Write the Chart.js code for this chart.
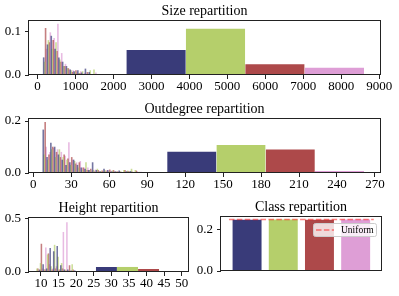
<!DOCTYPE html>
<html>
<head>
<meta charset="utf-8">
<script src="https://cdn.jsdelivr.net/npm/chart.js@4"></script>
<style>
  body { margin: 0; background: #fff; }
  #wrap { position: relative; width: 399px; height: 296px; background: #fff; }
  canvas { position: absolute; }
</style>
</head>
<body>
<div id="wrap">
  <canvas id="sizeChart" width="399" height="100" style="left:0;top:0"></canvas>
  <canvas id="degreeChart" width="399" height="100" style="left:0;top:98px"></canvas>
  <canvas id="heightChart" width="200" height="100" style="left:0;top:197px"></canvas>
  <canvas id="classChart" width="209" height="100" style="left:190px;top:196px"></canvas>
</div>
<script>
const classColors = ["#393b79", "#b5cf6b", "#ad494a", "#de9ed6"];

// size repartition
const sizeX = [200, 300, 400, 500, 600, 700, 800, 900, 1000, 1100, 1200, 1300, 1400, 1500];
const sizeA = [0.04, 0.07, 0.09, 0.06, 0.04, 0.03, 0.02, 0.012, 0.008, 0.01, 0.005, 0.014, 0.006, 0];
const sizeB = [0.03, 0.08, 0.06, 0.075, 0.035, 0.02, 0.015, 0.01, 0.006, 0.004, 0.008, 0, 0.01, 0.012];
const sizeC = [0.108, 0.075, 0.08, 0.055, 0.03, 0.02, 0.015, 0.006, 0.01, 0.004, 0, 0.006, 0, 0];
const sizeD = [0.06, 0.098, 0.085, 0.118, 0.05, 0.025, 0.012, 0.01, 0.005, 0.008, 0.004, 0, 0, 0.005];
const sizeEdges = [2340, 3905, 5470, 7035, 8600];
const sizeBlocks = [0.058, 0.107, 0.025, 0.017];
const sizeTicks = [0, 1000, 2000, 3000, 4000, 5000, 6000, 7000, 8000, 9000];

// outdegree repartition
const degreeX = [9, 12, 15, 18, 21, 24, 27, 30, 33, 36, 39, 42, 45, 48, 51, 54, 57, 60, 63, 66, 69, 72, 75, 78, 81, 84, 87];
const degreeA = [0.166, 0.06, 0.115, 0.1, 0.07, 0.05, 0.03, 0.04, 0.05, 0.03, 0.02, 0.015, 0.01, 0.04, 0.01, 0.005, 0.015, 0.01, 0.005, 0.005, 0.008, 0, 0.005, 0.006, 0, 0, 0];
const degreeB = [0.07, 0.05, 0.09, 0.06, 0.09, 0.06, 0.05, 0.03, 0.045, 0.02, 0.01, 0.04, 0.01, 0.01, 0.015, 0.005, 0.01, 0.005, 0.008, 0.004, 0.005, 0.01, 0.008, 0.015, 0.01, 0.004, 0.002];
const degreeC = [0.195, 0.07, 0.1, 0.08, 0.06, 0.07, 0.055, 0.06, 0.035, 0.04, 0.02, 0.01, 0.015, 0.005, 0.01, 0.008, 0.005, 0.012, 0.01, 0.005, 0.004, 0.01, 0.006, 0.004, 0.008, 0, 0];
const degreeD = [0.1, 0.08, 0.095, 0.09, 0.08, 0.065, 0.117, 0.05, 0.04, 0.045, 0.02, 0.02, 0.008, 0.012, 0.006, 0.005, 0.01, 0.008, 0.006, 0.004, 0, 0.006, 0.004, 0, 0.006, 0.004, 0];
const degreeEdges = [105.8, 144.7, 183.6, 222.5, 261.4];
const degreeBlocks = [0.082, 0.108, 0.091, 0.008];
const degreeTicks = [0, 30, 60, 90, 120, 150, 180, 210, 240, 270];

// height repartition
const heightX = [9, 10, 11, 12, 13, 14, 15, 16, 17, 18, 19, 20, 21];
const heightA = [0, 0.02, 0.07, 0.03, 0.22, 0.19, 0.24, 0.06, 0.02, 0.02, 0.01, 0.01, 0];
const heightB = [0.03, 0.08, 0.02, 0.16, 0.05, 0.25, 0.14, 0.08, 0.02, 0.01, 0.07, 0, 0.005];
const heightC = [0.03, 0.26, 0.02, 0.17, 0.02, 0.03, 0.02, 0.03, 0.01, 0.06, 0.02, 0, 0];
const heightD = [0.01, 0.03, 0.225, 0.07, 0.03, 0.05, 0.02, 0.37, 0.46, 0.01, 0.01, 0.005, 0];
const heightEdges = [25.6, 31.6, 37.6, 43.6, 49.6];
const heightBlocks = [0.047, 0.047, 0.028, 0.009];
const heightTicks = [10, 15, 20, 25, 30, 35, 40, 45, 50];

// class repartition
const classIndex = [0, 1, 2, 3];
const classShare = [0.249, 0.25, 0.249, 0.25];
const uniformShare = 0.25;

Chart.defaults.font.family = "'Liberation Serif', 'DejaVu Serif', serif";
Chart.defaults.font.size = 13;
Chart.defaults.color = "#000";

function setTicks(values) {
  return (axis) => {
    axis.ticks = values.map((v) => ({ value: v }));
  };
}

function fade(hex, a) {
  const n = parseInt(hex.slice(1), 16);
  return `rgba(${n >> 16},${(n >> 8) & 255},${n & 255},${a})`;
}

function spikes(xs, series) {
  return series.map((ys, k) => ({
    type: "bar",
    data: xs.map((x, i) => ({ x: x, y: ys[i] })),
    backgroundColor: fade(classColors[k], 0.7),
    grouped: true,
    categoryPercentage: 1,
    barPercentage: 1,
  }));
}

function blocks(edges, heights) {
  return heights.map((h, i) => ({
    type: "line",
    data: [
      { x: edges[i], y: 0 },
      { x: edges[i], y: h },
      { x: edges[i + 1], y: h },
      { x: edges[i + 1], y: 0 },
    ],
    backgroundColor: classColors[i],
    borderColor: "rgba(0,0,0,0)",
    pointRadius: 0,
    fill: "origin",
  }));
}

const frame = {
  id: "frame",
  afterDraw(chart) {
    const a = chart.chartArea;
    const ctx = chart.ctx;
    ctx.save();
    ctx.strokeStyle = "#222";
    ctx.lineWidth = 1;
    ctx.strokeRect(Math.round(a.left) - 0.5, Math.round(a.top) - 0.5, Math.round(a.right - a.left) + 1, Math.round(a.bottom - a.top));
    ctx.restore();
  },
};

const uniformLegend = {
  id: "uniformLegend",
  afterDraw(chart) {
    const a = chart.chartArea;
    const ctx = chart.ctx;
    const ds = chart.data.datasets[0];
    const w = 63;
    const h = 13;
    const x = a.right - w - 5;
    const y = a.top + 6;
    ctx.save();
    ctx.fillStyle = "rgba(255,255,255,0.8)";
    ctx.strokeStyle = "#cccccc";
    ctx.lineWidth = 1;
    ctx.beginPath();
    ctx.roundRect(x + 0.5, y + 0.5, w, h, 2);
    ctx.fill();
    ctx.stroke();
    ctx.setLineDash(ds.borderDash);
    ctx.strokeStyle = ds.borderColor;
    ctx.lineWidth = ds.borderWidth;
    ctx.beginPath();
    ctx.moveTo(x + 3, y + h / 2 + 0.5);
    ctx.lineTo(x + 21, y + h / 2 + 0.5);
    ctx.stroke();
    ctx.setLineDash([]);
    ctx.fillStyle = "#000";
    ctx.font = "9.5px 'Liberation Serif'";
    ctx.textBaseline = "middle";
    ctx.fillText(ds.label, x + 28, y + h / 2 + 1);
    ctx.restore();
  },
};

function panelOptions(title, x, y) {
  return {
    responsive: false,
    animation: false,
    devicePixelRatio: 1,
    layout: { padding: { left: 0, right: x.padRight, top: 0, bottom: 0 } },
    plugins: {
      legend: { display: false },
      tooltip: { enabled: false },
      title: {
        display: true,
        text: title,
        fullSize: false,
        color: "#000",
        font: { size: 14, weight: "normal" },
        padding: { top: 3, bottom: 1.2 },
      },
    },
    scales: {
      x: {
        type: "linear",
        offset: false,
        min: x.min,
        max: x.max,
        afterBuildTicks: setTicks(x.ticks),
        afterFit: (s) => {
          s.height = 25;
        },
        border: { display: false },
        grid: { offset: false, drawOnChartArea: false, drawTicks: x.ticks.length > 0, tickLength: 4, color: "#222" },
        ticks: { display: x.ticks.length > 0, padding: 0, maxRotation: 0, autoSkip: false, callback: (v) => String(v) },
      },
      y: {
        min: 0,
        max: y.max,
        afterBuildTicks: setTicks(y.ticks),
        afterFit: (s) => {
          s.width = y.width;
        },
        border: { display: false },
        grid: { drawOnChartArea: false, tickLength: 4, color: "#222" },
        ticks: { padding: 4, callback: (v) => v.toFixed(1) },
      },
    },
  };
}

new Chart(document.getElementById("sizeChart"), {
  type: "bar",
  data: { datasets: [...spikes(sizeX, [sizeA, sizeB, sizeC, sizeD]), ...blocks(sizeEdges, sizeBlocks)] },
  options: panelOptions(
    "Size repartition",
    { min: -224, max: 9020, ticks: sizeTicks, padRight: 19 },
    { max: 0.125, ticks: [0, 0.1], width: 29 }
  ),
  plugins: [frame],
});

new Chart(document.getElementById("degreeChart"), {
  type: "bar",
  data: { datasets: [...spikes(degreeX, [degreeA, degreeB, degreeC, degreeD]), ...blocks(degreeEdges, degreeBlocks)] },
  options: panelOptions(
    "Outdegree repartition",
    { min: -3.4, max: 274, ticks: degreeTicks, padRight: 19 },
    { max: 0.208, ticks: [0, 0.2], width: 29 }
  ),
  plugins: [frame],
});

new Chart(document.getElementById("heightChart"), {
  type: "bar",
  data: { datasets: [...spikes(heightX, [heightA, heightB, heightC, heightD]), ...blocks(heightEdges, heightBlocks)] },
  options: panelOptions(
    "Height repartition",
    { min: 6.6, max: 51.8, ticks: heightTicks, padRight: 12 },
    { max: 0.503, ticks: [0, 0.5], width: 29 }
  ),
  plugins: [frame],
});

new Chart(document.getElementById("classChart"), {
  type: "bar",
  data: {
    datasets: [
      {
        type: "line",
        label: "Uniform",
        data: [
          { x: classIndex[0] - 0.5, y: uniformShare },
          { x: classIndex[classIndex.length - 1] + 0.5, y: uniformShare },
        ],
        borderColor: "rgba(255,0,0,0.5)",
        borderWidth: 1.5,
        borderDash: [5.5, 2.4],
        pointRadius: 0,
        fill: false,
      },
      {
        type: "bar",
        data: classIndex.map((x, i) => ({ x: x, y: classShare[i] })),
        backgroundColor: classColors,
        categoryPercentage: 0.8,
        barPercentage: 1,
      },
    ],
  },
  options: panelOptions(
    "Class repartition",
    { min: -0.72, max: 3.7, ticks: [], padRight: 18 },
    { max: 0.2625, ticks: [0, 0.2], width: 31 }
  ),
  plugins: [frame, uniformLegend],
});
</script>
</body>
</html>
